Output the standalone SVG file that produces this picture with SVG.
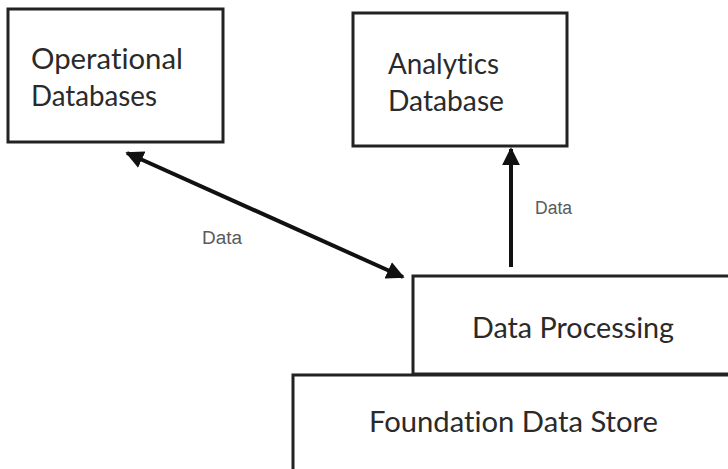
<svg xmlns="http://www.w3.org/2000/svg" width="728" height="469" viewBox="0 0 728 469">
  <style>
    .box { fill: #ffffff; stroke: #222222; stroke-width: 3; }
    .label { font-family: Lato, "Open Sans", "Liberation Sans", sans-serif; font-size: 28px; fill: #2a2a2a; font-variant-ligatures: none; }
    .flow { stroke: #111111; stroke-width: 4; fill: none; }
    .flow-label { font-family: "Liberation Sans", Arial, sans-serif; font-size: 18px; fill: #5a5a5a; }
  </style>
  <defs>
    <marker id="head" viewBox="0 0 10 10" refX="9" refY="5" markerWidth="4.5" markerHeight="4.5" orient="auto-start-reverse" markerUnits="strokeWidth">
      <path d="M0,0 L10,5 L0,10 Z" fill="#111111"/>
    </marker>
  </defs>
  <rect width="728" height="469" fill="#ffffff"/>

  <g id="operational-databases">
    <rect class="box" x="8" y="9" width="215" height="133"/>
    <text class="label" x="31" y="69" textLength="152" lengthAdjust="spacingAndGlyphs">Operational</text>
    <text class="label" x="31" y="106" textLength="126" lengthAdjust="spacingAndGlyphs">Databases</text>
  </g>

  <g id="analytics-database">
    <rect class="box" x="353" y="13" width="214" height="133"/>
    <text class="label" x="388" y="74" textLength="111" lengthAdjust="spacingAndGlyphs">Analytics</text>
    <text class="label" x="388" y="111" textLength="116" lengthAdjust="spacingAndGlyphs">Database</text>
  </g>

  <g id="foundation-data-store">
    <rect class="box" x="293" y="375" width="450" height="110"/>
    <text class="label" x="369" y="432" textLength="289" lengthAdjust="spacingAndGlyphs">Foundation Data Store</text>
  </g>

  <g id="data-processing">
    <rect class="box" x="413" y="276" width="330" height="98"/>
    <text class="label" x="472" y="338" textLength="202" lengthAdjust="spacingAndGlyphs">Data Processing</text>
  </g>

  <g id="connectors">
    <line class="flow" x1="127" y1="153" x2="403" y2="277" marker-start="url(#head)" marker-end="url(#head)"/>
    <line class="flow" x1="511" y1="267" x2="511" y2="149" marker-end="url(#head)"/>
    <text class="flow-label" x="202" y="244" textLength="40" lengthAdjust="spacingAndGlyphs">Data</text>
    <text class="flow-label" x="535" y="214" textLength="37" lengthAdjust="spacingAndGlyphs">Data</text>
  </g>
</svg>
